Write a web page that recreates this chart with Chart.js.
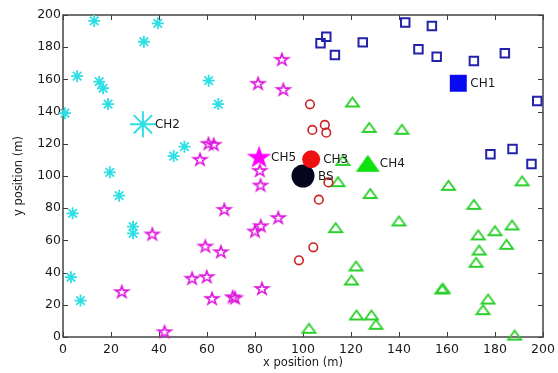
<!DOCTYPE html>
<html><head><meta charset="utf-8">
<script src="https://cdn.jsdelivr.net/npm/chart.js@4.4.1/dist/chart.umd.min.js"></script>
<style>html,body{margin:0;padding:0;background:#fff;}#wrap{width:558px;height:373px;}</style>
</head><body><div id="wrap"><canvas id="c" width="558" height="373"></canvas></div>
<script>
// ---- data ----
const xTicks = [0,20,40,60,80,100,120,140,160,180,200];
const yTicks = [0,20,40,60,80,100,120,140,160,180,200];

const c1X = [142.6,153.7,109.7,107.3,113.3,124.9,148.1,155.7,171.2,184.1,197.6,178.1,187.3,195.2];
const c1Y = [195.3,193.2,186.5,182.4,175.2,183.0,178.7,174.1,171.4,176.2,146.6,113.5,116.8,107.5];

const c2X = [13.0,39.5,33.7,5.9,15.1,16.7,18.8,0.8,60.7,64.7,50.6,46.1,19.5,4.0,23.4,29.2,29.2,3.3,7.3];
const c2Y = [196.3,194.8,183.4,162.0,158.6,154.5,144.7,139.0,159.2,144.7,118.2,112.4,102.3,76.8,87.8,68.5,64.4,37.1,22.6];

const c3X = [102.9,103.9,109.1,109.7,110.6,106.6,104.3,98.3];
const c3Y = [144.5,128.6,131.7,126.9,96.0,85.3,55.7,47.6];

const c4X = [120.6,127.6,141.2,116.6,114.6,128.0,160.6,191.3,171.2,140.0,113.6,173.0,180.0,187.1,173.4,184.8,172.1,157.9,158.3,177.1,175.0,188.2,122.1,120.2,122.3,128.5,130.4,102.5];
const c4Y = [146.0,130.2,129.0,109.7,96.5,89.1,94.2,97.0,82.4,72.1,67.9,63.4,66.0,69.6,54.0,57.6,46.4,29.8,30.3,23.6,17.0,1.2,44.1,35.4,13.7,13.7,7.9,5.4];

const c5X = [91.2,81.3,91.8,60.6,62.8,57.1,82.0,82.3,67.2,37.2,59.3,65.8,53.8,59.9,62.1,70.7,71.7,24.5,42.3,80.0,82.4,82.9,89.7];
const c5Y = [172.5,157.6,153.8,120.3,119.7,110.4,103.5,94.4,79.3,64.0,56.5,53.0,36.5,37.5,24.0,25.0,24.4,28.2,3.3,65.8,69.1,30.2,74.2];

const headNames = ['CH1','CH2','CH3','CH4','CH5'];
const headX = [164.7,33.3,103.4,127.0,81.7];
const headY = [157.6,132.1,110.4,107.9,112.0];

const bsName = 'BS';
const bsX = [100];
const bsY = [100];

// ---- marker images ----
function makeTri(w,h,color,fill,lw){
  const pad = Math.ceil(lw)+1;
  const cv = document.createElement('canvas');
  cv.width = w+2*pad; cv.height = h+2*pad;
  const g = cv.getContext('2d');
  g.beginPath();
  g.moveTo(pad+w/2,pad); g.lineTo(pad+w,pad+h); g.lineTo(pad,pad+h); g.closePath();
  if(fill){g.fillStyle=color;g.fill();}
  else{g.strokeStyle=color;g.lineWidth=lw;g.lineJoin='miter';g.stroke();}
  return cv;
}
function makePent(R,sx,color,fill,lw){
  const pad = Math.ceil(lw)+2;
  const W = Math.ceil(2*R*sx)+2*pad, H = Math.ceil(2*R)+2*pad;
  const cv = document.createElement('canvas');
  cv.width=W; cv.height=H;
  const g = cv.getContext('2d');
  const cx=W/2, cy=H/2+R*0.09, r=R*0.382;
  g.beginPath();
  for(let i=0;i<10;i++){
    const rr = i%2===0?R:r;
    const a = -Math.PI/2 + i*Math.PI/5;
    const px = cx+Math.cos(a)*rr*sx, py = cy+Math.sin(a)*rr;
    if(i===0) g.moveTo(px,py); else g.lineTo(px,py);
  }
  g.closePath();
  if(fill){g.fillStyle=color;g.fill();}
  else{g.strokeStyle=color;g.lineWidth=lw;g.lineJoin='miter';g.stroke();}
  return cv;
}
const triHollow = makeTri(13,9,'#2ccf2c',false,1.9);
const triFill = makeTri(24,17,'#10e010',true,0);
const pentHollow = makePent(6.2,1.1,'#dd18dd',false,1.6);
const pentFill = makePent(12,1.08,'#ff00ff',true,0);

const pts = (xs,ys)=>xs.map((v,i)=>({x:v,y:ys[i]}));
const labelPts = headNames.map((n,i)=>({x:headX[i],y:headY[i],t:n,off:12}));
labelPts.push({x:bsX[0],y:bsY[0],t:bsName,off:15});

const FAM = '"DejaVu Sans", Verdana, sans-serif';
const frameTicks = {
  id:'frameTicks',
  beforeDatasetsDraw(chart){
    const {ctx, chartArea:a, scales:{x,y}} = chart;
    ctx.save();
    ctx.strokeStyle='#3a3a3a'; ctx.lineWidth=1;
    ctx.beginPath();
    x.ticks.forEach(t=>{const p=Math.round(x.getPixelForValue(t.value))+0.5;
      ctx.moveTo(p,a.bottom);ctx.lineTo(p,a.bottom-5);ctx.moveTo(p,a.top);ctx.lineTo(p,a.top+5);});
    y.ticks.forEach(t=>{const p=Math.round(y.getPixelForValue(t.value))+0.5;
      ctx.moveTo(a.left,p);ctx.lineTo(a.left+5,p);ctx.moveTo(a.right,p);ctx.lineTo(a.right-5,p);});
    ctx.stroke();
    ctx.lineWidth=1.5; ctx.strokeStyle='#444';
    ctx.strokeRect(a.left,a.top,a.right-a.left,a.bottom-a.top);
    ctx.restore();
  },
  afterDatasetsDraw(chart){
    const {ctx, scales:{x,y}} = chart;
    ctx.save();
    ctx.font='12px '+FAM;
    ctx.fillStyle='#1a1a1a'; ctx.textBaseline='middle'; ctx.textAlign='left';
    labelPts.forEach(l=>ctx.fillText(l.t, x.getPixelForValue(l.x)+l.off, y.getPixelForValue(l.y)+1));
    ctx.restore();
  }
};

const tickFont = {family:FAM, size:12.5};
const titleFont = {family:FAM, size:11.5};
new Chart(document.getElementById('c'),{
  type:'scatter',
  data:{datasets:[
    {data:pts(c1X,c1Y), pointStyle:'rect', pointRadius:6, borderColor:'#2222aa', backgroundColor:'rgba(0,0,0,0)', borderWidth:2},
    {data:pts(c2X,c2Y), pointStyle:'star', pointRadius:6, borderColor:'#30dfe4', borderWidth:1.8},
    {data:pts(c3X,c3Y), pointStyle:'circle', pointRadius:4.3, borderColor:'#cc2222', backgroundColor:'rgba(0,0,0,0)', borderWidth:1.6},
    {data:pts(c4X,c4Y), pointStyle:triHollow},
    {data:pts(c5X,c5Y), pointStyle:pentHollow},
    {data:[{x:headX[0],y:headY[0]}], pointStyle:'rect', pointRadius:12, borderWidth:0, backgroundColor:'#0a0af2', borderColor:'#0a0af2'},
    {data:[{x:headX[1],y:headY[1]}], pointStyle:'star', pointRadius:13, borderColor:'#30dfe4', borderWidth:2},
    {data:[{x:headX[2],y:headY[2]}], pointStyle:'circle', pointRadius:9, borderWidth:0, backgroundColor:'#ee1111'},
    {data:[{x:headX[3],y:headY[3]}], pointStyle:triFill},
    {data:[{x:headX[4],y:headY[4]}], pointStyle:pentFill},
    {data:pts(bsX,bsY), pointStyle:'circle', pointRadius:11.5, borderWidth:0, backgroundColor:'#05051e'}
  ].map(d=>Object.assign({clip:false, pointHoverRadius:d.pointRadius}, d))},
  options:{
    responsive:false, animation:false, devicePixelRatio:1,
    layout:{padding:{top:15,right:0,left:0,bottom:0}},
    plugins:{legend:{display:false},tooltip:{enabled:false}},
    events:[],
    scales:{
      x:{type:'linear',min:0,max:200,
        afterBuildTicks:s=>{s.ticks=xTicks.map(v=>({value:v}));},
        afterFit:s=>{s.height=36; s.paddingRight=13; s.paddingLeft=0;},
        grid:{display:false, drawTicks:false}, border:{display:false},
        ticks:{padding:5,color:'#1a1a1a',font:tickFont,maxRotation:0,autoSkip:false},
        title:{display:true,text:'x position (m)',color:'#1a1a1a',font:titleFont,padding:{top:0,bottom:3}}},
      y:{type:'linear',min:0,max:200,
        afterBuildTicks:s=>{s.ticks=yTicks.map(v=>({value:v}));},
        afterFit:s=>{s.width=63;},
        grid:{display:false, drawTicks:false}, border:{display:false},
        ticks:{padding:2,color:'#1a1a1a',font:tickFont,autoSkip:false},
        title:{display:true,text:'y position (m)',color:'#1a1a1a',font:titleFont,padding:{top:12,bottom:0}}}
    }
  },
  plugins:[frameTicks]
});
</script></body></html>
